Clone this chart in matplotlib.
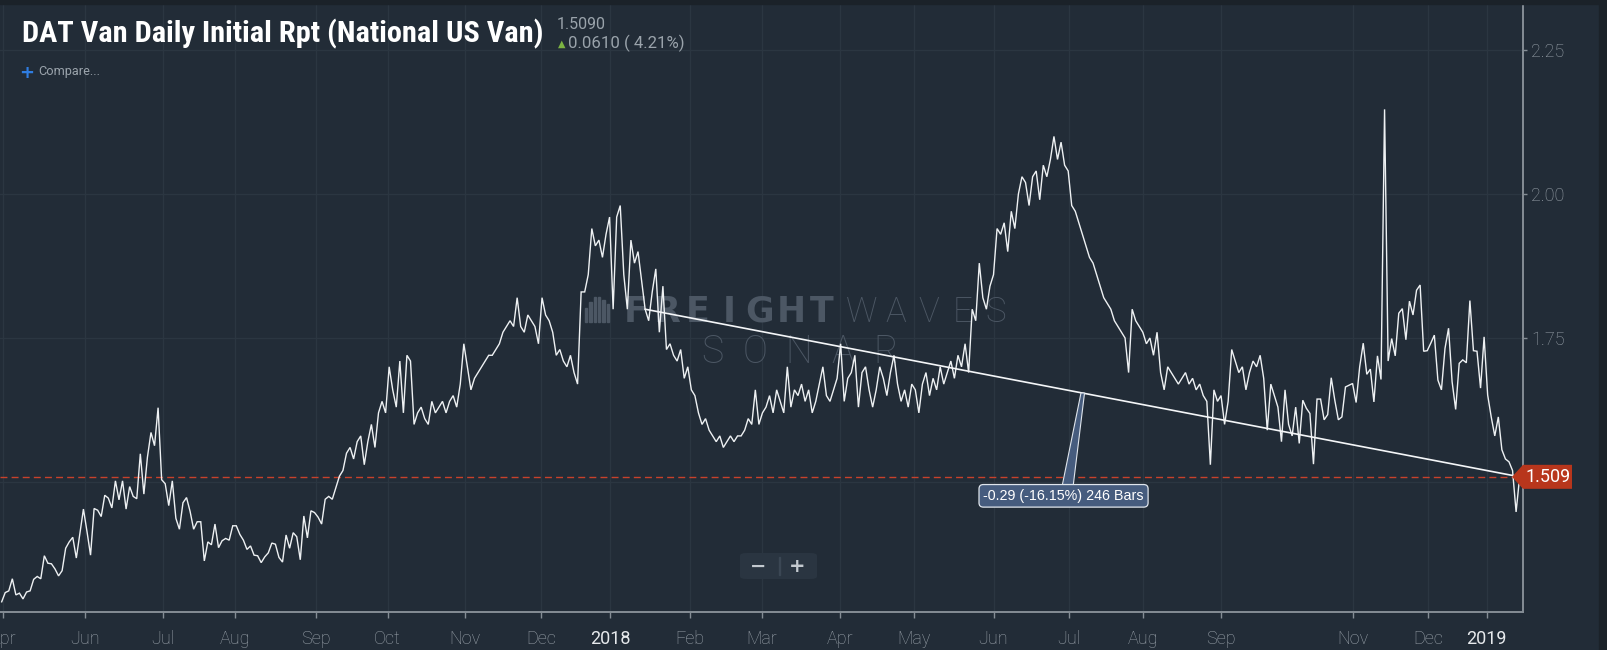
import matplotlib
matplotlib.use("Agg")
import matplotlib.pyplot as plt
from matplotlib import font_manager as fm
from matplotlib.patches import FancyBboxPatch, Rectangle, Polygon
from matplotlib.transforms import IdentityTransform

# ---------------- data (one value per bar) ----------------
rate_2017_summer = [1.292, 1.308, 1.311, 1.332, 1.304, 1.307, 1.297, 1.309, 1.311, 1.331,
                    1.336, 1.332, 1.372, 1.359, 1.358, 1.349, 1.337, 1.346, 1.385, 1.396,
                    1.404, 1.368, 1.411, 1.453, 1.414, 1.373, 1.454, 1.451, 1.440, 1.477,
                    1.472, 1.455, 1.502, 1.469, 1.502, 1.453, 1.492, 1.475, 1.471, 1.549,
                    1.479, 1.543, 1.586, 1.563, 1.629, 1.504, 1.497, 1.459, 1.502, 1.437,
                    1.418, 1.464, 1.473, 1.449, 1.418, 1.431, 1.431, 1.363, 1.396, 1.391,
                    1.427, 1.386, 1.398, 1.402, 1.399, 1.424, 1.424, 1.409, 1.399, 1.383,
                    1.389, 1.373, 1.372, 1.360, 1.370, 1.377, 1.394, 1.392, 1.369, 1.361,
                    1.408, 1.385, 1.412, 1.405, 1.365, 1.441, 1.403, 1.450, 1.447, 1.439,
                    1.427, 1.470, 1.475]
rate_2017_fall = [1.47, 1.49, 1.51, 1.52, 1.55, 1.56, 1.54, 1.57, 1.58, 1.53, 1.57, 1.60,
                  1.56, 1.62, 1.64, 1.62,
                  1.70, 1.66, 1.63, 1.71, 1.62, 1.72, 1.71, 1.60, 1.62, 1.63, 1.61, 1.60,
                  1.64, 1.62, 1.63, 1.64, 1.62, 1.64, 1.65, 1.63, 1.67, 1.74,
                  1.70, 1.66, 1.68, 1.69, 1.70, 1.71, 1.72, 1.72, 1.73, 1.74, 1.76, 1.77,
                  1.78, 1.77, 1.82, 1.77, 1.76, 1.79, 1.78, 1.77, 1.74]
rate_winter = [1.82, 1.79, 1.78, 1.76, 1.72, 1.73, 1.71, 1.70, 1.72, 1.69, 1.67, 1.83,
               1.83, 1.86, 1.94, 1.91, 1.92, 1.89, 1.93, 1.96, 1.80, 1.96, 1.98, 1.86,
               1.80, 1.92, 1.88, 1.90, 1.85, 1.80, 1.78, 1.83, 1.87, 1.76, 1.84, 1.73,
               1.74, 1.72, 1.71, 1.73, 1.68, 1.70]
rate_2018_spring = [1.66, 1.65, 1.62, 1.60, 1.61, 1.59, 1.58, 1.57, 1.58, 1.56, 1.57, 1.58,
                    1.57, 1.58, 1.58, 1.59, 1.61, 1.60, 1.66, 1.60, 1.62,
                    1.63, 1.65, 1.62, 1.66, 1.64, 1.62, 1.70, 1.63, 1.66, 1.65, 1.67, 1.64,
                    1.66, 1.62, 1.64, 1.67, 1.70, 1.65, 1.64, 1.66, 1.68,
                    1.74, 1.64, 1.68, 1.69, 1.72, 1.63, 1.69, 1.70, 1.66, 1.63, 1.66, 1.70,
                    1.68, 1.65, 1.69, 1.72, 1.67, 1.64, 1.66, 1.63, 1.67]
rate_2018_summer = [1.66, 1.62, 1.67, 1.69, 1.65, 1.68, 1.66, 1.70, 1.67, 1.69, 1.71, 1.68,
                    1.72, 1.70, 1.74, 1.69, 1.80, 1.78, 1.88, 1.82, 1.80, 1.84,
                    1.86, 1.94, 1.93, 1.95, 1.90, 1.97, 1.94, 2.00, 2.03, 2.02, 1.98, 2.03,
                    2.04, 1.99, 2.05, 2.03, 2.06, 2.10, 2.06, 2.09, 2.05,
                    2.04, 1.98, 1.97, 1.95, 1.93, 1.91, 1.89, 1.88, 1.86, 1.84, 1.82, 1.81,
                    1.80, 1.78, 1.77, 1.76, 1.75, 1.69, 1.80, 1.78, 1.77,
                    1.76, 1.74, 1.75, 1.72, 1.76, 1.69, 1.66, 1.70, 1.69, 1.68, 1.67, 1.68,
                    1.69, 1.67, 1.68, 1.66, 1.67, 1.65, 1.64, 1.53, 1.66, 1.64,
                    1.65, 1.60, 1.64, 1.73, 1.71, 1.69, 1.70, 1.66, 1.69, 1.71, 1.70, 1.72,
                    1.68, 1.59, 1.67, 1.65, 1.63, 1.57, 1.66, 1.60, 1.58, 1.63]
rate_2018_late = [1.567, 1.642, 1.628, 1.619, 1.531, 1.644, 1.644, 1.608, 1.617, 1.681,
                  1.642, 1.608, 1.613, 1.665, 1.668, 1.671, 1.638, 1.700, 1.741, 1.687,
                  1.696, 1.639, 1.719, 1.678, 2.147, 1.710, 1.749, 1.719, 1.793, 1.801,
                  1.747, 1.814, 1.790, 1.833, 1.842, 1.727, 1.728, 1.741, 1.755, 1.677,
                  1.660, 1.732, 1.767, 1.674, 1.626, 1.706, 1.712, 1.707, 1.815, 1.728,
                  1.727, 1.663, 1.752, 1.651, 1.613,
                  1.580, 1.613, 1.556, 1.540, 1.535, 1.520, 1.448, 1.509]

rate = (rate_2017_summer + rate_2017_fall + rate_winter + rate_2018_spring
        + rate_2018_summer + rate_2018_late)
bars = list(range(len(rate)))

tick_labels = ["Apr", "Jun", "Jul", "Aug", "Sep", "Oct", "Nov", "Dec", "2018", "Feb",
               "Mar", "Apr", "May", "Jun", "Jul", "Aug", "Sep", "Nov", "Dec", "2019"]
tick_bars = [0.3, 23.5, 45.5, 65.6, 88.5, 108.6, 130.4, 151.7, 171.2, 193.6,
             213.8, 235.9, 256.7, 279.0, 300.1, 321.1, 343.1, 380.2, 401.2, 417.7]
y_ticks = [1.50, 1.75, 2.00, 2.25]
y_tick_labels = ["", "1.75", "2.00", "2.25"]

trend_bar_count = 246
title_text = "DAT Van Daily Initial Rpt (National US Van)"
last_text = "1.5090"
change_text = "0.0610 ( 4.21%)"
trend_text = "-0.29 (-16.15%) 246 Bars"

# ---------------- style ----------------
W, H = 1607, 650
BG = "#222c37"
OUTER = "#1b2229"
GRID = "#2b3641"
AXIS = "#858d95"
TXT = "#9aa3ab"
WM = "#4c5764"

names = {f.name for f in fm.fontManager.ttflist}


def pick_condensed():
    for n in ("Roboto Condensed", "Liberation Sans Narrow"):
        if n in names:
            return n, "normal"
    for f in fm.fontManager.ttflist:
        if f.name == "DejaVu Sans" and f.stretch in ("condensed", "semi-condensed"):
            return "DejaVu Sans", "condensed"
    return ("Roboto" if "Roboto" in names else "DejaVu Sans"), "normal"


COND, COND_STRETCH = pick_condensed()
SANS = "Roboto" if "Roboto" in names else "DejaVu Sans"

fig = plt.figure(figsize=(W / 100, H / 100), dpi=100, facecolor=BG)


def fx(px):
    return px / W


def fy(py):
    return 1 - py / H


ax = fig.add_axes([0, fy(612), fx(1523), (612 - 4) / H])
ax.set_facecolor(BG)

x_left = -1.67 / 3.555
x_right = (1523 - 1.67) / 3.555
ax.set_xlim(x_left, x_right)
ax.set_ylim(1.2743, 2.3299)

ax.set_xticks(tick_bars)
ax.set_xticklabels(tick_labels)
ax.set_yticks(y_ticks)
ax.set_yticklabels(y_tick_labels)
ax.yaxis.tick_right()
ax.grid(True, color=GRID, lw=1)
ax.set_axisbelow(True)

for s in ("left", "top"):
    ax.spines[s].set_visible(False)
for s in ("right", "bottom"):
    ax.spines[s].set_color(AXIS)
    ax.spines[s].set_linewidth(1.4)
ax.tick_params(axis="x", colors=AXIS, length=4, width=1, pad=9, labelsize=13,
               labelcolor=TXT)
ax.tick_params(axis="y", colors=AXIS, length=3, width=1, pad=3, labelsize=13,
               labelcolor=TXT)
for lab in ax.get_xticklabels() + ax.get_yticklabels():
    lab.set_fontfamily(SANS)
    lab.set_fontweight("light")
for lab in ax.get_xticklabels():
    if lab.get_text() in ("2018", "2019"):
        lab.set_color("#e6e9ec")
        lab.set_fontweight("normal")

# watermark (letter by letter, wide spacing like the logo)
for i, ch in enumerate("FREIGHT"):
    ax.text(fx(636 + i * 31), fy(322), ch, transform=fig.transFigure, fontsize=25,
            family="DejaVu Sans", weight="bold", color=WM, va="baseline", ha="center",
            zorder=1)
for i, ch in enumerate("WAVES"):
    ax.text(fx(862 + i * 33.5), fy(322), ch, transform=fig.transFigure, fontsize=25,
            family=SANS, weight="light", color=WM, va="baseline", ha="center", zorder=1)
for i, ch in enumerate("SONAR"):
    ax.text(fx(712 + i * 43.5), fy(363), ch, transform=fig.transFigure, fontsize=27,
            family=SANS, weight="light", color=WM, va="baseline", ha="center", zorder=1)
for i, hgt in enumerate([14, 20, 25, 25, 22, 18]):
    fig.patches.append(Rectangle((fx(585 + i * 4.3), fy(322)), fx(2.4), hgt / H,
                                 transform=fig.transFigure, color=WM, zorder=1))

# price series
ax.plot(bars, rate, color="#eef1f3", lw=1.0, zorder=3, solid_joinstyle="miter")

last_bar = bars[-1]
last_val = rate[-1]
ax.axhline(last_val, color="#c8412b", lw=1.0, ls=(0, (5, 3)), zorder=2)

# trend line
t0 = last_bar - trend_bar_count
ax.plot([t0, last_bar], [rate[t0], last_val], color="#f4f6f8", lw=1.2, zorder=4)
mid_bar = (t0 + last_bar) / 2
mid_val = (rate[t0] + last_val) / 2
lab_x = mid_bar - 5.3
lab_y = 1.476
ax.add_patch(Polygon([(mid_bar - 0.4, mid_val), (mid_bar + 0.6, mid_val),
                      (lab_x + 2.7, 1.493), (lab_x - 0.4, 1.493)],
                     closed=True, facecolor="#465c7e", edgecolor="#dfe5ec", lw=0.8,
                     zorder=5))
ax.text(lab_x, lab_y, trend_text, ha="center", va="center", fontsize=10.3,
        family="Liberation Sans", color="white", zorder=6,
        bbox=dict(boxstyle="round,pad=0.3,rounding_size=0.3", fc="#465c7e",
                  ec="#dfe5ec", lw=0.9))

# outer frame strips
fig.patches.append(Rectangle((0, fy(4)), 1, 4 / H, transform=fig.transFigure,
                             color=OUTER, zorder=0))
fig.patches.append(Rectangle((fx(1599), 0), fx(8), 1, transform=fig.transFigure,
                             color=OUTER, zorder=0))

# price label on right axis
fig.canvas.draw()
_, py = ax.transData.transform((0, last_val))
tip = 1512
pts = [(tip, py), (1523, py + 12), (1572, py + 12), (1572, py - 12), (1523, py - 12)]
fig.patches.append(Polygon(pts, closed=True, transform=IdentityTransform(),
                           facecolor="#b8361c", edgecolor="none", zorder=10))
fig.text(fx(1548), py / H, f"{last_val:.3f}", ha="center", va="center",
         fontsize=13, family=SANS, color="white", zorder=11)

# header texts
title = fig.text(fx(22), fy(42), title_text, family=COND, stretch=COND_STRETCH,
                 weight="bold", fontsize=22, color="white", va="baseline", ha="left")
fig.text(fx(557), fy(29), last_text, family=SANS, fontsize=11.5,
         color=TXT, va="baseline", ha="left")
fig.text(fx(562), fy(47), "\u25B2", family="DejaVu Sans", fontsize=7,
         color="#7cb342", va="baseline", ha="center")
t_chg = fig.text(fx(568), fy(48), change_text, family=SANS, fontsize=11,
                 color=TXT, va="baseline", ha="left")
fig.text(fx(27), fy(73), "+", family="DejaVu Sans", fontsize=13, weight="bold",
         color="#2f7de1", va="center", ha="center")
t_cmp = fig.text(fx(38), fy(72), "Compare...", family=SANS, fontsize=8.5,
                 color=TXT, va="center", ha="left")

# zoom widget
fig.patches.append(FancyBboxPatch((fx(740), fy(579)), fx(77), 26 / H,
                                  boxstyle="round,pad=0,rounding_size=0.004",
                                  transform=fig.transFigure, facecolor="#2a3541",
                                  edgecolor="none", zorder=2))
fig.patches.append(Rectangle((fx(779), fy(575)), fx(1), 18 / H, transform=fig.transFigure,
                             color="#3b4754", zorder=3))
fig.text(fx(758), fy(566), "\u2212", family="DejaVu Sans", fontsize=14, weight="bold",
         color="#c3c9cf", ha="center", va="center", zorder=4)
fig.text(fx(797), fy(566), "+", family="DejaVu Sans", fontsize=14, weight="bold",
         color="#c3c9cf", ha="center", va="center", zorder=4)


def fit(t, target_px):
    fig.canvas.draw()
    w = t.get_window_extent().width
    t.set_fontsize(t.get_fontsize() * target_px / w)


fit(title, 521)
fit(t_chg, 117)
fit(t_cmp, 62)

fig.savefig("out.png", dpi=100, facecolor=BG)
